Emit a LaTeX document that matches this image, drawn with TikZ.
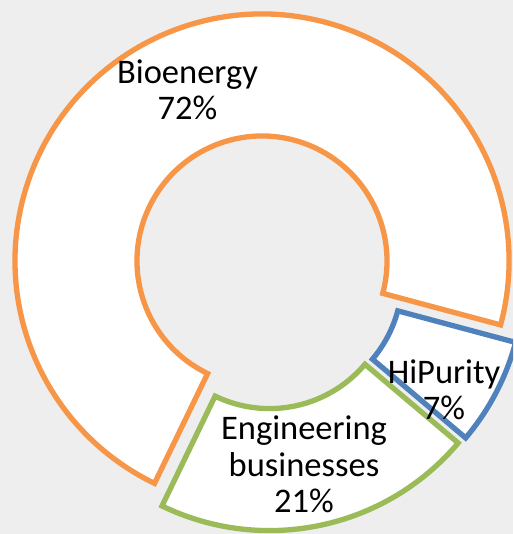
\documentclass[tikz,border=0pt]{standalone}
\usepackage{fontspec}
\setmainfont{Carlito}
\definecolor{bgc}{HTML}{EEEEEE}
\definecolor{bioc}{HTML}{F79646}
\definecolor{hipc}{HTML}{4F81BD}
\definecolor{engc}{HTML}{9BBB59}
\tikzset{
  slice/.style={line width=5.3pt, line join=miter, fill=white},
  lbl/.style={align=center, font=\fontsize{34.5}{36.5}\selectfont, inner sep=0pt}
}
\begin{document}
\begin{tikzpicture}[x=1pt,y=1pt]
\useasboundingbox (0,0) rectangle (513,534);
\fill[bgc] (0,0) rectangle (513,534);
\clip (0,0) rectangle (513,534);
% Bioenergy
\begin{scope}[shift={(262,273)}]
  \draw[slice, draw=bioc] (-15:247pt) arc[start angle=-15, end angle=244.2, radius=247pt]
     -- (244.2:125pt) arc[start angle=244.2, end angle=-15, radius=125pt] -- cycle;
\end{scope}
% HiPurity
\begin{scope}[shift={(277,255.5)}]
  \draw[slice, draw=hipc] (-40.2:247pt) arc[start angle=-40.2, end angle=-15, radius=247pt]
     -- (-15:125pt) arc[start angle=-15, end angle=-40.2, radius=125pt] -- cycle;
\end{scope}
% Engineering businesses
\begin{scope}[shift={(269.5,250.4)}]
  \draw[slice, draw=engc] (-115.8:247pt) arc[start angle=-115.8, end angle=-40.2, radius=247pt]
     -- (-40.2:125pt) arc[start angle=-40.2, end angle=-115.8, radius=125pt] -- cycle;
\end{scope}
\node[lbl] (bio) at (187.5,444) {Bioenergy\\72\%};
\node[lbl] (hip) at (444,144) {HiPurity\\7\%};
\node[lbl] (eng) at (304,69.5) {Engineering\\businesses\\21\%};
\end{tikzpicture}
\end{document}
